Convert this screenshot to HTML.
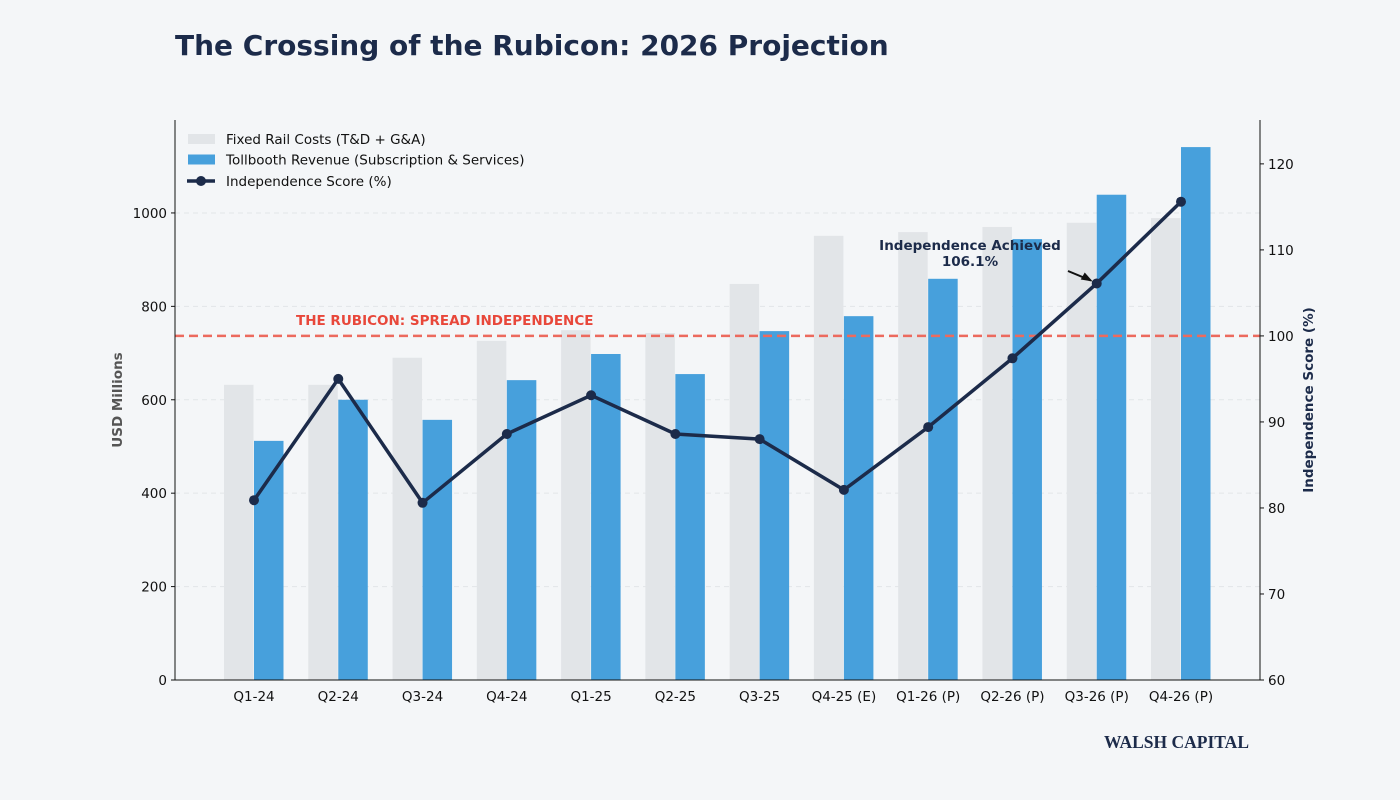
<!DOCTYPE html>
<html><head><meta charset="utf-8"><style>
html,body{margin:0;padding:0;overflow:hidden;background:#f4f6f8;font-family:"Liberation Sans","DejaVu Sans",sans-serif}
svg{display:block}
svg text{font-family:"DejaVu Sans","Liberation Sans",sans-serif}
</style></head><body>
<svg id="c" width="1400" height="800" xmlns="http://www.w3.org/2000/svg">
<rect width="1400" height="800" fill="#f4f6f8"/>
<text x="175" y="55" font-size="28" font-weight="bold" fill="#1c2b4a">The Crossing of the Rubicon: 2026 Projection</text>
<text x="1249" y="748" text-anchor="end" font-size="17.5" font-weight="bold" fill="#1c2b4a" style="font-family:'Liberation Serif',serif">WALSH CAPITAL</text>
</svg>
<script>
const categories=["Q1-24","Q2-24","Q3-24","Q4-24","Q1-25","Q2-25","Q3-25","Q4-25 (E)","Q1-26 (P)","Q2-26 (P)","Q3-26 (P)","Q4-26 (P)"];
const fixedCosts=[632,632,690,726,749,743,848,951,959,970,979,989];
const revenue=[512,600,557,642,698,655,747,779,859,944,1039,1141];
const score=[80.9,95.0,80.6,88.6,93.1,88.6,88.0,82.1,89.4,97.4,106.1,115.6];
const leftTicks=[0,200,400,600,800,1000];
const rightTicks=[60,70,80,90,100,110,120];
const rubicon=100;

const svg=document.getElementById('c');const NS='http://www.w3.org/2000/svg';
const L=175,R=1260,T=120,B=680;
const yL=v=>B-v*(B-T)/1199;
const yR=v=>B-(v-60)*(B-T)/65.1;
const x=i=>254+i*(1181-254)/11;
function el(t,a,p){const e=document.createElementNS(NS,t);for(const k in a)e.setAttribute(k,a[k]);(p||svg).appendChild(e);return e;}
leftTicks.forEach(v=>{if(v===0)return;const g=el('line',{x1:L,x2:R,y1:yL(v),y2:yL(v),stroke:'#e2e5e8','stroke-dasharray':'5,4'});

});
categories.forEach((c,i)=>{
 const g=el('rect',{x:x(i)-30,y:yL(fixedCosts[i]),width:29.5,height:B-yL(fixedCosts[i]),fill:'#e2e5e8'});
 
 
 const b=el('rect',{x:x(i),y:yL(revenue[i]),width:29.5,height:B-yL(revenue[i]),fill:'#47a0dc'});
 
 
 const t=el('text',{x:x(i),y:B+21,'text-anchor':'middle','font-size':13.5,fill:'#111'});t.textContent=c;
 
 
});
const rl=el('line',{x1:L,x2:R,y1:yR(rubicon),y2:yR(rubicon),stroke:'#ec6a5e','stroke-width':2.5,'stroke-dasharray':'9,5'});


const rt=el('text',{x:296,y:yR(rubicon)-11,'font-size':13.5,'font-weight':'bold',fill:'#e8473a'});rt.textContent='THE RUBICON: SPREAD INDEPENDENCE';


const pl=el('polyline',{points:score.map((s,i)=>x(i)+','+yR(s)).join(' '),fill:'none',stroke:'#1c2b4a','stroke-width':3.5});


score.forEach((s,i)=>{const p=el('circle',{cx:x(i),cy:yR(s),r:5,fill:'#1c2b4a'});

});
const ax=x(10),ay=yR(score[10]);
const an=el('text',{x:970,y:250,'text-anchor':'middle','font-size':13.5,'font-weight':'bold',fill:'#1c2b4a'});an.textContent='Independence Achieved';


const av=el('text',{x:970,y:266,'text-anchor':'middle','font-size':13.5,'font-weight':'bold',fill:'#1c2b4a'});av.textContent=score[10].toFixed(1)+'%';


const ar=el('line',{x1:1068,y1:271,x2:ax-6,y2:ay-3,stroke:'#111','stroke-width':2});


const ah=el('polygon',{points:`${ax-4},${ay-2} ${ax-16},${ay-4} ${ax-12},${ay-11}`,fill:'#111'});


[[L,T,L,B],[R,T,R,B],[L,B,R,B]].forEach(a=>{const l=el('line',{x1:a[0],y1:a[1],x2:a[2],y2:a[3],stroke:'#111','stroke-width':1});

});
leftTicks.forEach(v=>{el('line',{x1:L-4,x2:L,y1:yL(v),y2:yL(v),stroke:'#111'});
const t=el('text',{x:L-8,y:yL(v)+5,'text-anchor':'end','font-size':13.5,fill:'#111'});t.textContent=v;

});
rightTicks.forEach(v=>{el('line',{x1:R,x2:R+4,y1:yR(v),y2:yR(v),stroke:'#111'});
const t=el('text',{x:R+8,y:yR(v)+5,'font-size':13.5,fill:'#111'});t.textContent=v;

});
const yt=el('text',{transform:'translate(122,400) rotate(-90)','text-anchor':'middle','font-size':13.5,'font-weight':'bold',fill:'#555'});yt.textContent='USD Millions';


const yt2=el('text',{transform:'translate(1313,400) rotate(-90)','text-anchor':'middle','font-size':13.5,'font-weight':'bold',fill:'#1c2b4a'});yt2.textContent='Independence Score (%)';


const lg=[['Fixed Rail Costs (T&D + G&A)','#e2e5e8','rect'],['Tollbooth Revenue (Subscription & Services)','#47a0dc','rect'],['Independence Score (%)','#1c2b4a','line']];
lg.forEach((d,i)=>{const y=139+i*20.5;
 if(d[2]==='rect'){el('rect',{x:188,y:y-5,width:27,height:10,fill:d[1]});}
 else{el('line',{x1:187,x2:215,y1:y+1,y2:y+1,stroke:d[1],'stroke-width':3.5});el('circle',{cx:201,cy:y+1,r:5,fill:d[1]});}
 const t=el('text',{x:226,y:y+5+(d[2]==='line'?1:0),'font-size':13.5,fill:'#111'});t.textContent=d[0];
 
 
});
</script>
</body></html>
